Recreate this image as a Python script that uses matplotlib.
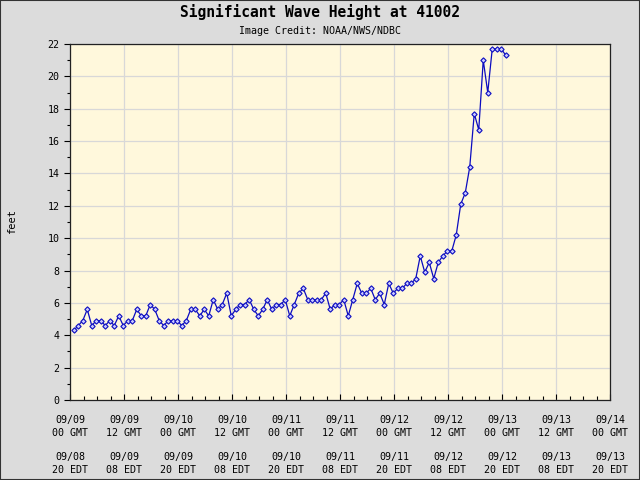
import matplotlib
matplotlib.use("Agg")
import matplotlib.pyplot as plt
import numpy as np
from matplotlib.patches import Rectangle
from matplotlib.ticker import MultipleLocator

# hourly obs, first at 09/09 00:50 GMT
wvht = [4.3, 4.6, 4.9, 5.6, 4.6, 4.9, 4.9, 4.6, 4.9, 4.6,
        5.2, 4.6, 4.9, 4.9, 5.6, 5.2, 5.2, 5.9, 5.6, 4.9,
        4.6, 4.9, 4.9, 4.9, 4.6, 4.9, 5.6, 5.6, 5.2, 5.6,
        5.2, 6.2, 5.6, 5.9, 6.6, 5.2, 5.6, 5.9, 5.9, 6.2,
        5.6, 5.2, 5.6, 6.2, 5.6, 5.9, 5.9, 6.2, 5.2, 5.9,
        6.6, 6.9, 6.2, 6.2, 6.2, 6.2, 6.6, 5.6, 5.9, 5.9,
        6.2, 5.2, 6.2, 7.2, 6.6, 6.6, 6.9, 6.2, 6.6, 5.9,
        7.2, 6.6, 6.9, 6.9, 7.2, 7.2, 7.5, 8.9, 7.9, 8.5,
        7.5, 8.5, 8.9, 9.2, 9.2, 10.2, 12.1, 12.8, 14.4, 17.7,
        16.7, 21.0, 19.0, 21.7, 21.7, 21.7, 21.3]
first_obs = 50 / 60.0
hours = first_obs + np.arange(len(wvht))

gmt_days = ["09/09", "09/09", "09/10", "09/10", "09/11", "09/11",
            "09/12", "09/12", "09/13", "09/13", "09/14"]
gmt_hrs = ["00", "12"] * 5 + ["00"]
edt_days = ["09/08", "09/09", "09/09", "09/10", "09/10", "09/11",
            "09/11", "09/12", "09/12", "09/13", "09/13"]
edt_hrs = ["20", "08"] * 5 + ["20"]

xlabels = [f"{a}\n{b} GMT\n\n{c}\n{d} EDT"
           for a, b, c, d in zip(gmt_days, gmt_hrs, edt_days, edt_hrs)]

plt.rcParams['font.family'] = 'DejaVu Sans Mono'

fig = plt.figure(figsize=(6.4, 4.8), dpi=100, facecolor='#dcdcdc')
ax = fig.add_axes([70/640, 1 - 400/480, 540/640, 356/480])
ax.set_facecolor('#fff8dc')

ax.plot(hours, wvht, color='#0c0cc0', lw=0.9, marker='D', ms=2.7,
        mfc='#c8c8ff', mec='#0c0cc0', mew=0.8, zorder=3)

ax.set_xlim(0, 120)
ax.set_ylim(0, 22)
ax.set_xticks(np.arange(0, 121, 12))
ax.set_xticklabels(xlabels, fontsize=7.2, linespacing=1.3)
ax.xaxis.set_minor_locator(MultipleLocator(3))
ax.set_yticks(np.arange(0, 23, 2))
ax.yaxis.set_minor_locator(MultipleLocator(1))
ax.tick_params(axis='y', which='both', labelsize=7.2, direction='out', length=4, width=0.8)
ax.tick_params(axis='y', which='minor', length=2)
ax.tick_params(axis='x', which='both', direction='in', length=4, width=0.8, pad=11)
ax.tick_params(axis='x', which='minor', length=3)
ax.grid(True, which='major', color='#d8d8d8', lw=0.9, zorder=0)
ax.set_axisbelow(True)
for s in ax.spines.values():
    s.set_color('#222222')
    s.set_linewidth(0.9)

ax.set_ylabel("feet", fontsize=7.5, labelpad=22)

fig.text(0.5, 1 - 12/480, "Significant Wave Height at 41002", ha='center', va='center',
         fontsize=10.5, fontweight='bold')
fig.text(0.5, 1 - 31/480, "Image Credit: NOAA/NWS/NDBC", ha='center', va='center',
         fontsize=7.2)

fig.patches.append(Rectangle((0, 0), 1, 1, transform=fig.transFigure, fill=False,
                             edgecolor='#333333', lw=1.5))

fig.savefig("out.png", dpi=100, facecolor=fig.get_facecolor())
